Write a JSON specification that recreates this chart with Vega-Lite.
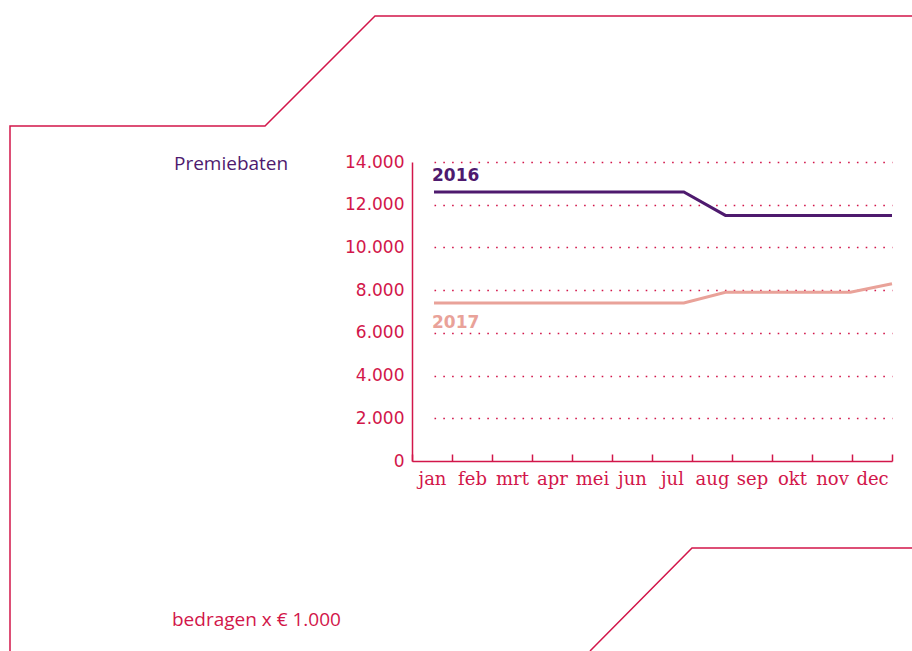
{
  "$schema": "https://vega.github.io/schema/vega-lite/v6.json",
  "width": 480,
  "height": 299,
  "autosize": {"type": "none"},
  "padding": {"left": 412, "top": 162, "right": 20, "bottom": 190},
  "background": "white",
  "config": {"view": {"stroke": null}},
  "datasets": {
    "series": [
      {"month": "jan", "year": "2016", "value": 12600},
      {"month": "feb", "year": "2016", "value": 12600},
      {"month": "mrt", "year": "2016", "value": 12600},
      {"month": "apr", "year": "2016", "value": 12600},
      {"month": "mei", "year": "2016", "value": 12600},
      {"month": "jun", "year": "2016", "value": 12600},
      {"month": "jul", "year": "2016", "value": 12600},
      {"month": "aug", "year": "2016", "value": 11500},
      {"month": "sep", "year": "2016", "value": 11500},
      {"month": "okt", "year": "2016", "value": 11500},
      {"month": "nov", "year": "2016", "value": 11500},
      {"month": "dec", "year": "2016", "value": 11500},
      {"month": "jan", "year": "2017", "value": 7400},
      {"month": "feb", "year": "2017", "value": 7400},
      {"month": "mrt", "year": "2017", "value": 7400},
      {"month": "apr", "year": "2017", "value": 7400},
      {"month": "mei", "year": "2017", "value": 7400},
      {"month": "jun", "year": "2017", "value": 7400},
      {"month": "jul", "year": "2017", "value": 7400},
      {"month": "aug", "year": "2017", "value": 7900},
      {"month": "sep", "year": "2017", "value": 7900},
      {"month": "okt", "year": "2017", "value": 7900},
      {"month": "nov", "year": "2017", "value": 7900},
      {"month": "dec", "year": "2017", "value": 8300}
    ],
    "months": [
      {"month": "jan"}, {"month": "feb"}, {"month": "mrt"}, {"month": "apr"},
      {"month": "mei"}, {"month": "jun"}, {"month": "jul"}, {"month": "aug"},
      {"month": "sep"}, {"month": "okt"}, {"month": "nov"}, {"month": "dec"}
    ],
    "frame": [
      {"part": "a", "i": 0, "px": 10, "py": 651},
      {"part": "a", "i": 1, "px": 10, "py": 126},
      {"part": "a", "i": 2, "px": 265, "py": 126},
      {"part": "a", "i": 3, "px": 375, "py": 16},
      {"part": "a", "i": 4, "px": 912, "py": 16},
      {"part": "b", "i": 0, "px": 590, "py": 651},
      {"part": "b", "i": 1, "px": 692, "py": 548},
      {"part": "b", "i": 2, "px": 912, "py": 548}
    ],
    "notes": [
      {"text": "Premiebaten", "px": 174, "py": 164, "kind": "title"},
      {"text": "bedragen x € 1.000", "px": 172, "py": 620, "kind": "unit"}
    ]
  },
  "layer": [
    {
      "data": {"name": "months"},
      "mark": {"type": "rule", "opacity": 0},
      "encoding": {
        "x": {
          "field": "month",
          "type": "nominal",
          "sort": null,
          "scale": {"type": "band", "paddingInner": 0, "paddingOuter": 0},
          "axis": {
            "title": null,
            "labelAngle": 0,
            "tickBand": "extent",
            "tickSize": -7,
            "tickColor": "#d2164a",
            "tickWidth": 1.5,
            "domainColor": "#d2164a",
            "domainWidth": 1.5,
            "labelFont": "DejaVu Serif",
            "labelFontSize": 18,
            "labelColor": "#d2164a",
            "labelPadding": 16
          }
        }
      }
    },
    {
      "data": {"name": "series"},
      "encoding": {
        "x": {"field": "month", "type": "nominal", "sort": null, "scale": {"type": "point", "range": [22, 480], "padding": 0}, "axis": null},
        "y": {
          "field": "value",
          "type": "quantitative",
          "scale": {"domain": [0, 14000], "nice": false},
          "axis": {
            "title": null,
            "values": [0, 2000, 4000, 6000, 8000, 10000, 12000, 14000],
            "labelExpr": "replace(format(datum.value, ','), ',', '.')",
            "grid": true,
            "gridDash": [1.6, 7.2],
            "gridColor": "#d2164a",
            "gridWidth": 1.6,
            "gridOpacity": {"condition": {"test": "datum.value == 0", "value": 0}, "value": 1},
            "ticks": false,
            "domainColor": "#d2164a",
            "domainWidth": 1.5,
            "labelFont": "DejaVu Sans",
            "labelFontSize": 17,
            "labelColor": "#d2164a",
            "labelPadding": 8
          }
        },
        "color": {"field": "year", "type": "nominal", "scale": {"domain": ["2016", "2017"], "range": ["#4e1a6e", "#e9a299"]}, "legend": null}
      },
      "layer": [
        {
          "mark": {"type": "line", "strokeWidth": 3, "strokeCap": "butt"}
        },
        {
          "transform": [{"filter": "datum.month == 'jan' && datum.year == '2016'"}],
          "mark": {"type": "text", "align": "left", "baseline": "middle", "font": "DejaVu Sans", "fontWeight": "bold", "fontSize": 17, "dx": -2, "dy": -16},
          "encoding": {"text": {"field": "year"}}
        },
        {
          "transform": [{"filter": "datum.month == 'jan' && datum.year == '2017'"}],
          "mark": {"type": "text", "align": "left", "baseline": "middle", "font": "DejaVu Sans", "fontWeight": "bold", "fontSize": 17, "dx": -2, "dy": 20},
          "encoding": {"text": {"field": "year"}}
        }
      ]
    },
    {
      "data": {"name": "frame"},
      "mark": {"type": "line", "strokeWidth": 1.5, "color": "#d2164a", "clip": false},
      "encoding": {
        "x": {"field": "px", "type": "quantitative", "scale": {"domain": [412, 892], "nice": false, "zero": false}, "axis": null},
        "y": {"field": "py", "type": "quantitative", "scale": {"domain": [162, 461], "reverse": true, "nice": false, "zero": false}, "axis": null},
        "detail": {"field": "part"},
        "order": {"field": "i"}
      }
    },
    {
      "data": {"name": "notes"},
      "mark": {"type": "text", "align": "left", "baseline": "middle", "font": "Open Sans", "fontSize": 19},
      "encoding": {
        "x": {"field": "px", "type": "quantitative", "scale": {"domain": [412, 892], "nice": false, "zero": false}, "axis": null},
        "y": {"field": "py", "type": "quantitative", "scale": {"domain": [162, 461], "reverse": true, "nice": false, "zero": false}, "axis": null},
        "text": {"field": "text"},
        "color": {"field": "kind", "type": "nominal", "scale": {"domain": ["title", "unit"], "range": ["#4e1a6e", "#d2164a"]}, "legend": null}
      }
    }
  ],
  "resolve": {"scale": {"x": "independent", "y": "independent", "color": "independent"}}
}
